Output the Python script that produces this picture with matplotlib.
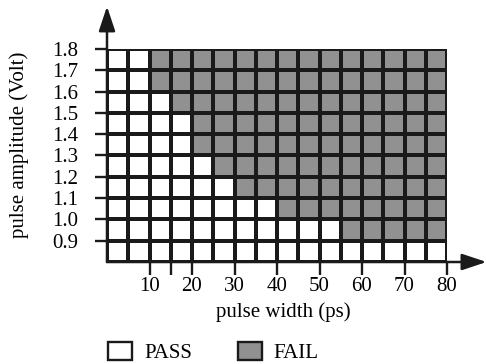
import numpy as np
import matplotlib
matplotlib.use("Agg")
import matplotlib.pyplot as plt
from matplotlib.patches import Patch
from matplotlib.colors import ListedColormap

plt.rcParams['font.family'] = ['Liberation Serif', 'DejaVu Serif']

# Data
pulse_widths = [5, 10, 15, 20, 25, 30, 35, 40, 45, 50, 55, 60, 65, 70, 75, 80]   # right edges of columns (ps)
amplitudes = [1.8, 1.7, 1.6, 1.5, 1.4, 1.3, 1.2, 1.1, 1.0, 0.9]                  # top edges of rows (Volt)
pass_cells = [2, 2, 3, 4, 4, 5, 6, 8, 11, 16]                                     # passing columns per row
xtick_vals = [10, 15, 20, 30, 40, 50, 60, 70, 80]
xtick_labels = ['10', '', '20', '30', '40', '50', '60', '70', '80']
ytick_vals = [0.9, 1.0, 1.1, 1.2, 1.3, 1.4, 1.5, 1.6, 1.7, 1.8]
ytick_labels = ['0.9', '1.0', '1.1', '1.2', '1.3', '1.4', '1.5', '1.6', '1.7', '1.8']

W, H = 487, 364
fig = plt.figure(figsize=(W / 100, H / 100), dpi=100)
left, right, top, bottom = 107, 447, 49, 262
ax = fig.add_axes([left / W, 1 - bottom / H, (right - left) / W, (bottom - top) / H])

x_edges = np.array([0] + pulse_widths, dtype=float)
step_y = round(amplitudes[0] - amplitudes[1], 3)
y_tops = np.array(amplitudes[::-1], dtype=float)
y_edges = np.concatenate([[y_tops[0] - step_y], y_tops])

n_rows = len(amplitudes)
n_cols = len(pulse_widths)
status = np.ones((n_rows, n_cols))
for i, npass in enumerate(pass_cells):
    status[n_rows - 1 - i, :npass] = 0

gray = '#919191'
ink = '#1a1a1a'
cmap = ListedColormap(['white', gray])
ax.pcolormesh(x_edges, y_edges, status, cmap=cmap, vmin=0, vmax=1,
              edgecolors=ink, linewidth=1.7)

ax.set_xlim(x_edges[0], x_edges[-1])
ax.set_ylim(y_edges[0], y_edges[-1])
for s in ax.spines.values():
    s.set_visible(False)

ax.set_xticks(xtick_vals)
ax.set_xticklabels(xtick_labels)
ax.set_yticks(ytick_vals)
ax.set_yticklabels(ytick_labels)
ax.tick_params(axis='both', length=9, width=1.7, color=ink, labelsize=15)
ax.tick_params(axis='x', pad=2)
ax.tick_params(axis='y', pad=12)

# axis arrows
ax.annotate('', xy=(x_edges[0], y_edges[-1] + 0.2), xytext=(x_edges[0], y_edges[0]),
            arrowprops=dict(arrowstyle='-|>,head_length=1.5,head_width=0.5', color=ink,
                            lw=1.8, shrinkA=0, shrinkB=0), annotation_clip=False)
ax.annotate('', xy=(x_edges[-1] + 9.3, y_edges[0]), xytext=(x_edges[0], y_edges[0]),
            arrowprops=dict(arrowstyle='-|>,head_length=1.5,head_width=0.5', color=ink,
                            lw=1.8, shrinkA=0, shrinkB=0), annotation_clip=False)

ax.set_xlabel('pulse width (ps)', fontsize=15)
ax.xaxis.set_label_coords(0.518, -0.188)
ax.set_ylabel('pulse amplitude (Volt)', fontsize=15)
ax.yaxis.set_label_coords(-0.228, 0.55)

handles = [Patch(facecolor='white', edgecolor=ink, linewidth=1.7, label='PASS'),
           Patch(facecolor=gray, edgecolor=ink, linewidth=1.7, label='FAIL')]
fig.legend(handles=handles, loc='center', bbox_to_anchor=(0.438, 0.031), ncol=2, frameon=False,
           fontsize=15, handlelength=1.15, handleheight=0.95, handletextpad=0.57,
           columnspacing=2.2, borderpad=0)

fig.savefig('out.png', dpi=100)
